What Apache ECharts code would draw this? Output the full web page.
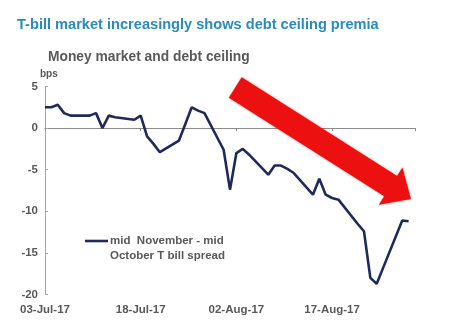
<!DOCTYPE html>
<html>
<head>
<meta charset="utf-8">
<script src="https://cdn.jsdelivr.net/npm/echarts@6/dist/echarts.min.js"></script>
<style>
  html, body { margin: 0; padding: 0; background: #fff; }
  #chart { width: 454px; height: 326px; }
</style>
</head>
<body>
<div id="chart"></div>
<script>
// Daily spread, mid-November minus mid-October T-bill (bps), business days
var dates = [
  '2017-07-03','2017-07-04','2017-07-05','2017-07-06','2017-07-07',
  '2017-07-10','2017-07-11','2017-07-12','2017-07-13','2017-07-14',
  '2017-07-17','2017-07-18','2017-07-19','2017-07-20','2017-07-21',
  '2017-07-24','2017-07-25','2017-07-26','2017-07-27','2017-07-28',
  '2017-07-31','2017-08-01','2017-08-02','2017-08-03','2017-08-04',
  '2017-08-07','2017-08-08','2017-08-09','2017-08-10','2017-08-11',
  '2017-08-14','2017-08-15','2017-08-16','2017-08-17','2017-08-18',
  '2017-08-21','2017-08-22','2017-08-23','2017-08-24','2017-08-25',
  '2017-08-28','2017-08-29'
];
var spread = [
  2.5, 2.5, 2.8, 1.8, 1.5,
  1.5, 1.8, 0.0, 1.5, 1.3,
  1.0, 1.5, -1.0, -1.9, -2.9,
  -1.5, 0.5, 2.5, 2.1, 1.8,
  -2.6, -7.4, -3.0, -2.5, -3.2,
  -5.6, -4.5, -4.5, -4.9, -5.4,
  -8.0, -6.1, -8.0, -8.4, -8.6,
  -11.5, -12.4, -18.0, -18.7, -16.8,
  -11.1, -11.2
];
var seriesName = 'mid  November - mid\nOctober T bill spread';
var tickLabels = ['03-Jul-17', '18-Jul-17', '02-Aug-17', '17-Aug-17'];

var DAY = 86400000;
var start = Date.UTC(2017, 6, 3);
function dayOffset(s) {
  var p = s.split('-');
  return Math.round((Date.UTC(+p[0], +p[1] - 1, +p[2]) - start) / DAY);
}
var points = dates.map(function (d, i) { return [dayOffset(d), spread[i]]; });

var gray = '#595959';
var family = 'Liberation Sans, Arial, sans-serif';
var labelFont = { fontFamily: family, fontWeight: 'bold', fontSize: 11.5, color: gray };

// Thick red trend arrow pointing down-right
function arrowPoints() {
  var cx = 235.3, cy = 87.5, ang = 32.4 * Math.PI / 180;
  var ux = Math.cos(ang), uy = Math.sin(ang), nx = -uy, ny = ux;
  var w = 12, hw = 22, base = 184, tip = 208;
  function P(a, b) { return [cx + a * ux + b * nx, cy + a * uy + b * ny]; }
  return [P(0, -w), P(base, -w), P(base, -hw), P(tip, 0), P(base, hw), P(base, w), P(0, w)];
}

var chart = echarts.init(document.getElementById('chart'), null, { renderer: 'canvas' });
chart.setOption({
  animation: false,
  backgroundColor: '#fff',
  grid: { left: 45, right: 39, top: 86.5, bottom: 31.5, containLabel: false },
  title: [
    {
      text: 'T-bill market increasingly shows debt ceiling premia',
      left: 17, top: 17, padding: 0,
      textStyle: { fontFamily: family, fontWeight: 'bold', fontSize: 14.6, color: '#2a8bbd' }
    },
    {
      text: 'Money market and debt ceiling',
      left: 48, top: 50, padding: 0,
      textStyle: { fontFamily: family, fontWeight: 'bold', fontSize: 13.8, color: gray }
    },
    {
      text: 'bps',
      left: 40, top: 69, padding: 0,
      textStyle: { fontFamily: family, fontWeight: 'bold', fontSize: 10, color: gray }
    }
  ],
  xAxis: [
    {
      type: 'value', min: 0, max: 58, interval: 15,
      axisLine: { show: false, onZero: false },
      axisTick: { show: false },
      splitLine: { show: false },
      axisLabel: Object.assign({
        margin: 9,
        formatter: function (v) { return v % 15 === 0 ? tickLabels[v / 15] || '' : ''; }
      }, labelFont)
    },
    {
      // zero line with its small ticks
      type: 'value', min: 0, max: 58, interval: 15, position: 'bottom',
      axisLine: { show: true, onZero: true, lineStyle: { color: '#8c8c8c', width: 1 } },
      axisTick: { show: true, length: 3, lineStyle: { color: '#8c8c8c' } },
      axisLabel: { show: false },
      splitLine: { show: false }
    }
  ],
  yAxis: {
    type: 'value', min: -20, max: 5, interval: 5,
    axisLine: { show: true, lineStyle: { color: '#a6a6a6', width: 1 } },
    axisTick: { show: true, inside: true, length: 3, lineStyle: { color: '#a6a6a6' } },
    splitLine: { show: false },
    axisLabel: Object.assign({ margin: 7 }, labelFont)
  },
  series: [{
    name: seriesName,
    type: 'line',
    xAxisIndex: 0,
    data: points,
    symbol: 'none',
    lineStyle: { color: '#1f2a5c', width: 2.6 },
    z: 3
  }],
  graphic: [
    {
      type: 'polygon',
      shape: { points: arrowPoints() },
      style: { fill: '#ec1010', shadowBlur: 2, shadowColor: 'rgba(236,16,16,0.6)' },
      z: 10
    },
    {
      type: 'line',
      shape: { x1: 85, y1: 241, x2: 108, y2: 241 },
      style: { stroke: '#1f2a5c', lineWidth: 2.6 },
      z: 10
    },
    {
      type: 'text',
      left: 110, top: 234,
      style: {
        text: seriesName,
        fill: gray,
        font: 'bold 11.5px "Liberation Sans", Arial, sans-serif',
        lineHeight: 14.5
      },
      z: 10
    }
  ]
});
</script>
</body>
</html>
